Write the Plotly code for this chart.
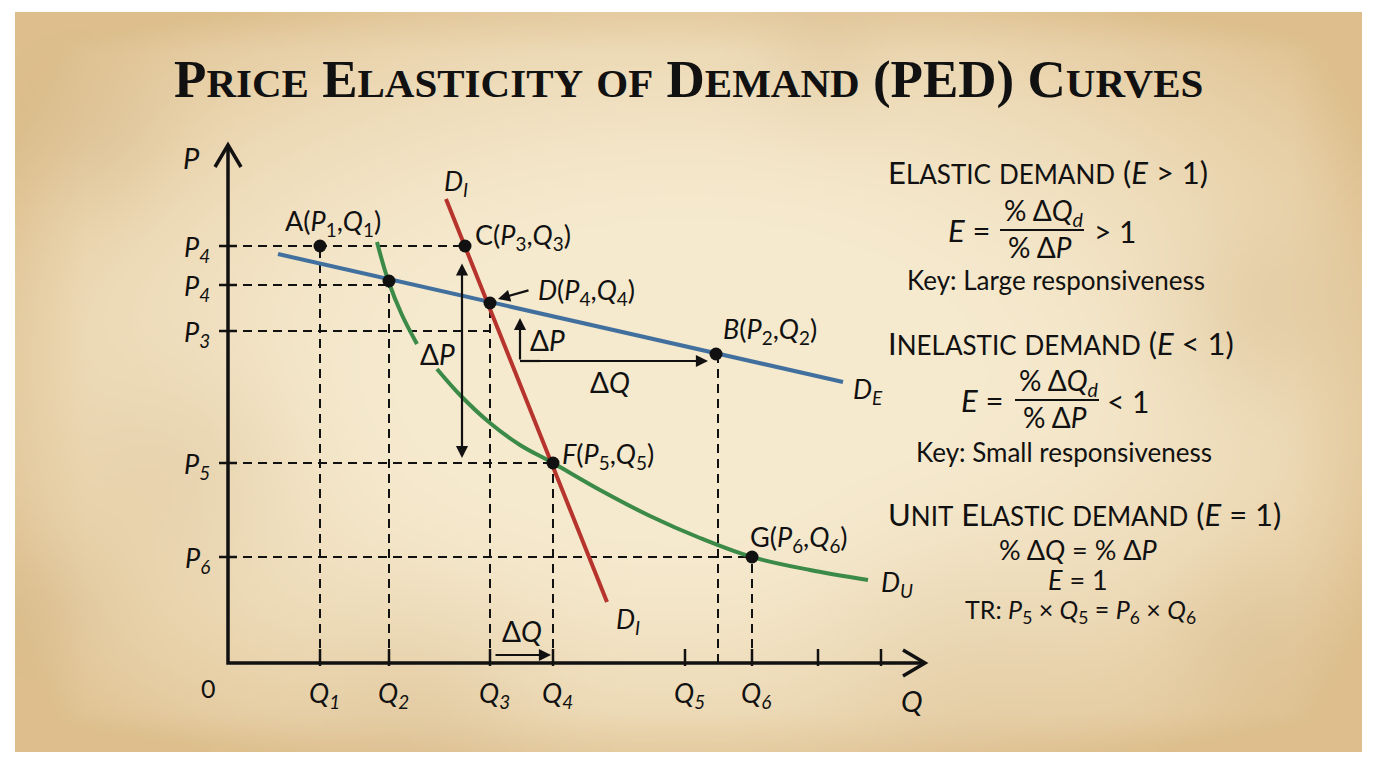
import base64, struct, zlib
import numpy as np
import plotly.graph_objects as go

# ---------------- data (economic units: Q along x, P along y) ----------------
Q_TICKS = [9.2, 16.1, 26.2, 32.5, 45.7, 52.4]
Q_LABELS = ["Q<sub>1</sub>", "Q<sub>2</sub>", "Q<sub>3</sub>", "Q<sub>4</sub>", "Q<sub>5</sub>", "Q<sub>6</sub>"]
Q_EXTRA_TICKS = [59.0, 65.3]
P_TICKS = [41.7, 37.8, 33.2, 20.0, 10.6]
P_LABELS = ["P<sub>4</sub>", "P<sub>4</sub>", "P<sub>3</sub>", "P<sub>5</sub>", "P<sub>6</sub>"]
Q_AXIS_MAX = 69.7
P_AXIS_MAX = 51.8

DE_Q = [5.0, 61.5]
DE_P = [40.9, 28.1]
DI_Q = [21.8, 37.9]
DI_P = [46.4, 6.1]
DU_Q = [14.9, 16.0, 17.4, 18.9, None, 20.9, 23.2, 26.2, 29.2, 32.5, 37.2, 42.2, 47.2, 52.4, 58.2, 64.0]
DU_P = [42.1, 38.3, 34.8, 31.9, None, 29.4, 26.8, 24.0, 21.8, 20.0, 17.3, 14.7, 12.5, 10.6, 9.3, 8.3]

PT_NAMES = ["A", "X", "C", "D", "B", "F", "G"]
PT_Q = [9.2, 16.1, 23.7, 26.2, 48.8, 32.5, 52.4]
PT_P = [41.7, 38.2, 41.7, 36.0, 30.9, 20.0, 10.6]

# dashed guides: horizontal (P level, Q end) and vertical (Q, P top)
H_GUIDE_P = [41.7, 37.8, 33.2, 20.0, 10.6]
H_GUIDE_Q = [23.7, 16.1, 26.2, 32.5, 52.4]
V_GUIDE_Q = [9.2, 16.1, 26.2, 32.5, 49.0, 52.4]
V_GUIDE_P = [41.7, 37.8, 36.0, 20.0, 30.9, 10.6]

# ---------------- geometry of the frame (pixels) ----------------
W, H = 1376, 768
X0, Y0, S = 228, 663, 10.0


def dx(px):
    return (px - X0) / S


def dy(py):
    return (Y0 - py) / S


def ppx(px):
    return px / W


def ppy(py):
    return 1 - py / H


# ---------------- parchment texture ----------------
def make_png(arr):
    h, w, _ = arr.shape
    raw = b"".join(b"\x00" + arr[i].tobytes() for i in range(h))

    def chunk(t, d):
        c = struct.pack(">I", len(d)) + t + d
        return c + struct.pack(">I", zlib.crc32(t + d) & 0xFFFFFFFF)

    png = (b"\x89PNG\r\n\x1a\n"
           + chunk(b"IHDR", struct.pack(">IIBBBBB", w, h, 8, 2, 0, 0, 0))
           + chunk(b"IDAT", zlib.compress(raw, 9))
           + chunk(b"IEND", b""))
    return "data:image/png;base64," + base64.b64encode(png).decode()


TW, TH = 337, 185
yy, xx = np.mgrid[0:TH, 0:TW].astype(float)
ux = (xx / (TW - 1) - 0.5) * 2
uy = (yy / (TH - 1) - 0.5) * 2
r = np.sqrt((ux ** 2) * 0.85 + (uy ** 2) * 0.85)
t = np.clip((r - 0.35) / 0.9, 0, 1) ** 1.6
edge = np.clip(np.maximum(np.abs(ux), np.abs(uy)) - 0.9, 0, 1) * 4
t = np.clip(t + edge * 0.5, 0, 1)
centre = np.array([246, 234, 207], float)
rim = np.array([222, 191, 141], float)
img = centre[None, None, :] * (1 - t[..., None]) + rim[None, None, :] * t[..., None]
stains = [(0.05, 0.15, 0.06, 0.35), (0.12, 0.62, 0.08, 0.25), (0.93, 0.4, 0.07, 0.3),
          (0.3, 0.95, 0.08, 0.25), (0.7, 0.9, 0.1, 0.2), (0.6, 0.05, 0.05, 0.2),
          (0.92, 0.85, 0.06, 0.3), (0.02, 0.8, 0.05, 0.3)]
for sx, sy, sr, st in stains:
    d2 = ((xx / TW - sx) ** 2 + ((yy / TH - sy) * 0.55) ** 2) / sr ** 2
    a = st * np.exp(-d2)
    img = img * (1 - a[..., None]) + rim[None, None, :] * 0.95 * a[..., None]
img = np.clip(img, 0, 255).astype(np.uint8)
TEX = make_png(img)

# ---------------- figure ----------------
BLUE = "#41709F"
RED = "#B7342C"
GREEN = "#3B8A48"
INK = "#111111"
FONT = "Lato, 'Open Sans', sans-serif"

fig = go.Figure()

# dashed guides
for p, q in zip(H_GUIDE_P, H_GUIDE_Q):
    fig.add_trace(go.Scatter(x=[0, q], y=[p, p], mode="lines",
                             line=dict(color=INK, width=2, dash="9px,6px"), hoverinfo="skip"))
for q, p in zip(V_GUIDE_Q, V_GUIDE_P):
    fig.add_trace(go.Scatter(x=[q, q], y=[0, p], mode="lines",
                             line=dict(color=INK, width=2, dash="9px,6px"), hoverinfo="skip"))

# curves
fig.add_trace(go.Scatter(x=DE_Q, y=DE_P, mode="lines", line=dict(color=BLUE, width=4), hoverinfo="skip"))
fig.add_trace(go.Scatter(x=DU_Q, y=DU_P, mode="lines", line=dict(color=GREEN, width=4, shape="spline"),
                         connectgaps=False, hoverinfo="skip"))
fig.add_trace(go.Scatter(x=DI_Q, y=DI_P, mode="lines", line=dict(color=RED, width=4), hoverinfo="skip"))

# axes
fig.add_trace(go.Scatter(x=[0, 0, Q_AXIS_MAX], y=[P_AXIS_MAX, 0, 0], mode="lines",
                         line=dict(color=INK, width=3.5), hoverinfo="skip"))
# axis ticks
for p in P_TICKS:
    fig.add_trace(go.Scatter(x=[-0.9, 0.9], y=[p, p], mode="lines",
                             line=dict(color=INK, width=2.5), hoverinfo="skip"))
for q in Q_TICKS + Q_EXTRA_TICKS:
    fig.add_trace(go.Scatter(x=[q, q], y=[-0.3, 1.4], mode="lines",
                             line=dict(color=INK, width=2.5), hoverinfo="skip"))

# points
fig.add_trace(go.Scatter(x=PT_Q, y=PT_P, mode="markers",
                         marker=dict(color=INK, size=13), hoverinfo="skip"))

shapes = []
# axis chevrons
shapes.append(dict(type="path", xref="x", yref="y",
                   path=f"M {-1.3} {P_AXIS_MAX - 2.2} L 0 {P_AXIS_MAX} L {1.3} {P_AXIS_MAX - 2.2}",
                   line=dict(color=INK, width=3.5)))
shapes.append(dict(type="path", xref="x", yref="y",
                   path=f"M {Q_AXIS_MAX - 2.2} {1.3} L {Q_AXIS_MAX} 0 L {Q_AXIS_MAX - 2.2} {-1.3}",
                   line=dict(color=INK, width=3.5)))

ann = []


def label(x, y, text, size=26, xanchor="center", italic=False):
    if italic:
        text = f"<i>{text}</i>"
    ann.append(dict(x=x, y=y, xref="x", yref="y", text=text,
                    showarrow=False, xanchor=xanchor, yanchor="middle",
                    font=dict(family=FONT, size=size, color=INK)))


def arrow(x0, y0, x1, y1, both=False, width=2.2):
    ann.append(dict(x=x1, y=y1, ax=x0, ay=y0, xref="x", yref="y", axref="x", ayref="y",
                    text="", showarrow=True, arrowhead=2, arrowsize=1.1, arrowwidth=width,
                    arrowcolor=INK, arrowside=("end+start" if both else "end"),
                    startarrowhead=2, startarrowsize=1.1))


# axis labels
label(dx(191), dy(157), "P", size=29, italic=True)
label(dx(912), dy(700), "Q", size=29, italic=True)
label(dx(208), dy(688), "0", size=25)
for p, t_ in zip(P_TICKS, P_LABELS):
    label(dx(212), p - 0.2, f"<i>{t_}</i>", size=27, xanchor="right")
for q, t_ in zip(Q_TICKS, Q_LABELS):
    label(q + 0.4, dy(694), f"<i>{t_}</i>", size=27)

# curve labels
label(dx(456), dy(182), "D<sub>I</sub>", size=27, italic=True)
label(dx(628), dy(620), "D<sub>I</sub>", size=27, italic=True)
label(dx(868), dy(390), "D<sub>E</sub>", size=27, italic=True)
label(dx(897), dy(583), "D<sub>U</sub>", size=27, italic=True)

# point labels
label(dx(333), dy(222), "A(<i>P</i><sub>1</sub>,<i>Q</i><sub>1</sub>)", size=27)
label(dx(473), dy(236), "C(<i>P</i><sub>3</sub>,<i>Q</i><sub>3</sub>)", size=27, xanchor="left")
label(dx(536), dy(291), "<i>D</i>(<i>P</i><sub>4</sub>,<i>Q</i><sub>4</sub>)", size=27, xanchor="left")
label(dx(721), dy(330), "<i>B</i>(<i>P</i><sub>2</sub>,<i>Q</i><sub>2</sub>)", size=27, xanchor="left")
label(dx(560), dy(455), "<i>F</i>(<i>P</i><sub>5</sub>,<i>Q</i><sub>5</sub>)", size=27, xanchor="left")
label(dx(748), dy(538), "G(<i>P</i><sub>6</sub>,<i>Q</i><sub>6</sub>)", size=27, xanchor="left")

# delta labels and arrows
label(dx(437), dy(354), "Δ<i>P</i>", size=28)
arrow(dx(462), dy(262), dx(462), dy(458), both=True)
arrow(dx(530), dy(290), dx(498), dy(299))
label(dx(528), dy(340), "Δ<i>P</i>", size=28, xanchor="left")
label(dx(610), dy(382), "Δ<i>Q</i>", size=28)
arrow(dx(520), dy(361), dx(520), dy(318))
arrow(dx(520), dy(361), dx(708), dy(361))
shapes.append(dict(type="line", xref="x", yref="y", x0=dx(520), x1=dx(540), y0=dy(361), y1=dy(361),
                   line=dict(color=INK, width=2.2)))
label(dx(522), dy(631), "Δ<i>Q</i>", size=28)
arrow(dx(494), dy(655), dx(551), dy(655))


# ---------------- right panel ----------------
HB, HS = 31, 26


def sc(word):
    return f"{word[0]}<span style='font-size:{HS}px'>{word[1:].upper()}</span>"


def heading(words, tail, py):
    parts = []
    for w_, keep in words:
        if keep:
            parts.append(sc(w_))
        else:
            parts.append(f"<span style='font-size:{HS}px'>{w_.upper()}</span>")
    txt = " ".join(parts) + " " + tail
    ann.append(dict(x=ppx(886), y=ppy(py), xref="paper", yref="paper", text=txt, showarrow=False,
                    xanchor="left", yanchor="middle", font=dict(family=FONT, size=HB, color=INK)))


def ptext(px, py, text, size, xanchor="center"):
    ann.append(dict(x=ppx(px), y=ppy(py), xref="paper", yref="paper", text=text, showarrow=False,
                    xanchor=xanchor, yanchor="middle", font=dict(family=FONT, size=size, color=INK)))


def fraction(ex, bar0, bar1, rx, cy, rel):
    ptext(ex, cy, "<i>E</i> =", 31)
    mid = (bar0 + bar1) / 2
    ptext(mid + 2, cy - 18, "% Δ<i>Q<sub>d</sub></i>", 28)
    ptext(mid - 2, cy + 17, "% Δ<i>P</i>", 28)
    shapes.append(dict(type="line", xref="paper", yref="paper", x0=ppx(bar0), x1=ppx(bar1),
                       y0=ppy(cy), y1=ppy(cy), line=dict(color=INK, width=2)))
    ptext(rx, cy + 1, rel, 30)


heading([("Elastic", True), ("demand", False)], "(<i>E</i> &gt; 1)", 172)
fraction(969, 1000, 1084, 1115, 230, "&gt; 1")
ptext(1056, 280, "Key: Large responsiveness", 26)

heading([("Inelastic", True), ("demand", False)], "(<i>E</i> &lt; 1)", 343)
fraction(982, 1015, 1099, 1128, 400, "&lt; 1")
ptext(1064, 452, "Key: Small responsiveness", 26)

heading([("Unit", True), ("Elastic", True), ("demand", False)], "(<i>E</i> = 1)", 514)
ptext(1078, 549, "% Δ<i>Q</i> = % Δ<i>P</i>", 27)
ptext(1078, 579, "<i>E</i> = 1", 27)
ptext(1080, 611, "TR: <i>P</i><sub>5</sub> × <i>Q</i><sub>5</sub> = <i>P</i><sub>6</sub> × <i>Q</i><sub>6</sub>", 25)

# ---------------- title ----------------
TF_BIG, TF_SMALL = 53, 41


def tsc(word):
    return f"{word[0]}<span style='font-size:{TF_SMALL}px'>{word[1:].upper()}</span>"


title = " ".join([tsc("Price"), tsc("Elasticity"),
                  f"<span style='font-size:{TF_SMALL}px'>OF</span>",
                  tsc("Demand"), "(PED)", tsc("Curves")])
ann.append(dict(x=ppx(688), y=ppy(79), xref="paper", yref="paper", text=f"<b>{title}</b>", showarrow=False,
                xanchor="center", yanchor="middle",
                font=dict(family="'Liberation Serif', 'DejaVu Serif', serif", size=TF_BIG, color=INK)))

fig.update_layout(
    width=W, height=H,
    margin=dict(l=0, r=0, t=0, b=0),
    paper_bgcolor="white",
    plot_bgcolor="rgba(0,0,0,0)",
    showlegend=False,
    xaxis=dict(range=[dx(0), dx(W)], visible=False, fixedrange=True),
    yaxis=dict(range=[dy(H), dy(0)], visible=False, fixedrange=True),
    shapes=shapes,
    annotations=ann,
    images=[dict(source=TEX, xref="paper", yref="paper", x=ppx(15), y=ppy(12),
                 sizex=1347 / W, sizey=740 / H, sizing="stretch", layer="below",
                 xanchor="left", yanchor="top")],
)

fig.write_html(
    "out.html",
    config={"displayModeBar": False},
    post_script="document.body.style.margin='0';document.body.style.padding='0';"
                "document.body.style.overflow='hidden';",
)
